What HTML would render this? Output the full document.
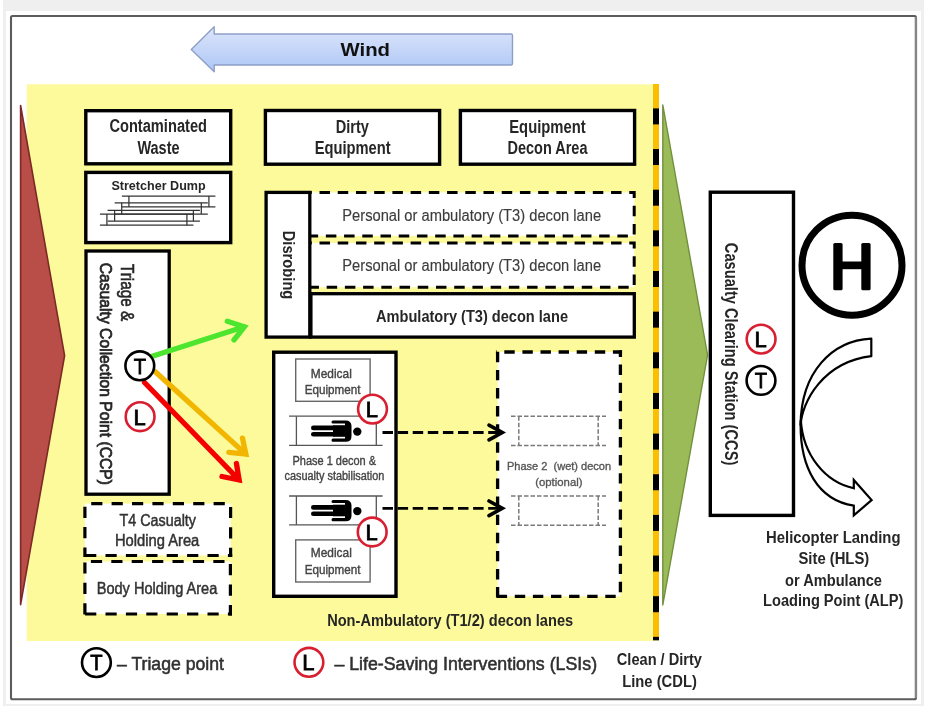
<!DOCTYPE html><html><head><meta charset="utf-8"><title>Decon layout</title><style>html,body{margin:0;padding:0;background:#fff;width:930px;height:718px;overflow:hidden;}svg text{font-family:"Liberation Sans",sans-serif;}</style></head><body><svg width="930" height="718" viewBox="0 0 930 718" style="display:block;filter:blur(0.45px)" font-family='"Liberation Sans", sans-serif'><rect x="0" y="0" width="930" height="718" fill="#fff"/>
<rect x="3" y="0" width="921" height="706" fill="#efefef"/>
<rect x="6" y="11" width="915" height="693" fill="#fff"/>
<rect x="11" y="16" width="905" height="683.2" fill="none" stroke="#5c5c5c" stroke-width="2.1" rx="1.5"/>
<line x1="915.9" y1="17" x2="915.9" y2="698" stroke="#858585" stroke-width="2.3"/>
<defs><linearGradient id="wg" x1="0" y1="0" x2="0" y2="1"><stop offset="0" stop-color="#dde6fb"/><stop offset="1" stop-color="#adc6f6"/></linearGradient></defs>
<path d="M191.3,49.6 L214.2,26.7 V34 H511 Q512.5,34 512.5,35.5 V63.5 Q512.5,65 511,65 H214.2 V71.7 Z" fill="url(#wg)" stroke="#8d9fc6" stroke-width="1.4" stroke-linejoin="round"/>
<text x="340.5" y="56.2" font-size="18.8" font-weight="bold" fill="#111" textLength="49.51" lengthAdjust="spacingAndGlyphs">Wind</text>
<rect x="26.7" y="84.3" width="626.6" height="556.7" fill="#fcfa9a"/>
<path d="M20.6,105.5 L64.6,355.7 L20.6,604.6 Z" fill="#b94d48" stroke="#7d2a26" stroke-width="1.6" stroke-linejoin="round"/>
<rect x="653" y="84" width="6" height="556.3" fill="#fcbf00"/>
<g fill="#000"><rect x="653" y="108.4" width="6" height="16"/><rect x="653" y="149.05" width="6" height="16"/><rect x="653" y="189.7" width="6" height="16"/><rect x="653" y="230.35" width="6" height="16"/><rect x="653" y="271" width="6" height="16"/><rect x="653" y="311.65" width="6" height="16"/><rect x="653" y="352.3" width="6" height="16"/><rect x="653" y="392.95" width="6" height="16"/><rect x="653" y="433.6" width="6" height="16"/><rect x="653" y="474.25" width="6" height="16"/><rect x="653" y="514.9" width="6" height="16"/><rect x="653" y="555.55" width="6" height="16"/><rect x="653" y="596.2" width="6" height="16"/><rect x="653" y="636.85" width="6" height="3.45"/></g>
<path d="M662.8,105 L707.6,355 L662.8,605 Z" fill="#9bbb59" stroke="#72903c" stroke-width="1.4" stroke-linejoin="round"/>
<rect x="85.8" y="110.7" width="144.9" height="53.1" fill="#fff" stroke="#000" stroke-width="3.4"/>
<text x="109.41" y="132.2" font-size="17.5" font-weight="bold" fill="#262626" textLength="97.57" lengthAdjust="spacingAndGlyphs">Contaminated</text>
<text x="137.4" y="154.2" font-size="17.5" font-weight="bold" fill="#262626" textLength="42.15" lengthAdjust="spacingAndGlyphs">Waste</text>
<rect x="85.8" y="172.4" width="144.9" height="70.2" fill="#fff" stroke="#000" stroke-width="3.4"/>
<text x="111.42" y="189.8" font-size="13.5" font-weight="bold" fill="#262626" textLength="94.3" lengthAdjust="spacingAndGlyphs">Stretcher Dump</text>
<g stroke="#333" stroke-width="1.25" fill="none"><line x1="121.9" y1="196" x2="215.4" y2="196"/><line x1="121.9" y1="206.9" x2="215.4" y2="206.9"/><line x1="128.9" y1="196" x2="128.9" y2="206.9"/><line x1="208.9" y1="196" x2="208.9" y2="206.9"/></g>
<g stroke="#333" stroke-width="1.25" fill="none"><line x1="114.7" y1="202.8" x2="207.8" y2="202.8"/><line x1="114.7" y1="214" x2="207.8" y2="214"/><line x1="121.7" y1="202.8" x2="121.7" y2="214"/><line x1="201.3" y1="202.8" x2="201.3" y2="214"/></g>
<g stroke="#333" stroke-width="1.25" fill="none"><line x1="107.6" y1="210.3" x2="199.9" y2="210.3"/><line x1="107.6" y1="221.1" x2="199.9" y2="221.1"/><line x1="114.6" y1="210.3" x2="114.6" y2="221.1"/><line x1="193.4" y1="210.3" x2="193.4" y2="221.1"/></g>
<g stroke="#333" stroke-width="1.25" fill="none"><line x1="99.9" y1="214" x2="193.4" y2="214"/><line x1="99.9" y1="225.2" x2="193.4" y2="225.2"/><line x1="106.9" y1="214" x2="106.9" y2="225.2"/><line x1="186.9" y1="214" x2="186.9" y2="225.2"/></g>
<rect x="265.4" y="110.5" width="174.2" height="53.7" fill="#fff" stroke="#000" stroke-width="3.4"/>
<text x="335.75" y="132.8" font-size="17.5" font-weight="bold" fill="#262626" textLength="33.17" lengthAdjust="spacingAndGlyphs">Dirty</text>
<text x="314.64" y="154.1" font-size="17.5" font-weight="bold" fill="#262626" textLength="76.03" lengthAdjust="spacingAndGlyphs">Equipment</text>
<rect x="460.4" y="110.5" width="174.2" height="53.7" fill="#fff" stroke="#000" stroke-width="3.4"/>
<text x="509.24" y="132.8" font-size="17.5" font-weight="bold" fill="#262626" textLength="76.43" lengthAdjust="spacingAndGlyphs">Equipment</text>
<text x="507.56" y="154.1" font-size="17.5" font-weight="bold" fill="#262626" textLength="79.91" lengthAdjust="spacingAndGlyphs">Decon Area</text>
<rect x="300" y="192.5" width="334.2" height="43.4" fill="#fff" stroke="#000" stroke-width="3" stroke-dasharray="10.5 7.72" stroke-dashoffset="16.92"/>
<rect x="300" y="243" width="334.2" height="44.2" fill="#fff" stroke="#000" stroke-width="3" stroke-dasharray="10.5 7.72" stroke-dashoffset="16.92"/>
<rect x="310.9" y="293.7" width="323.4" height="43.4" fill="#fff" stroke="#000" stroke-width="3.3"/>
<rect x="266.1" y="192.4" width="43.7" height="144.7" fill="#fff" stroke="#000" stroke-width="3.3"/>
<text x="342.33" y="221" font-size="16" font-weight="normal" fill="#3c3c3c" textLength="258.75" lengthAdjust="spacingAndGlyphs" stroke="#3c3c3c" stroke-width="0.15">Personal or ambulatory (T3) decon lane</text>
<text x="342.33" y="270.9" font-size="16" font-weight="normal" fill="#3c3c3c" textLength="258.75" lengthAdjust="spacingAndGlyphs" stroke="#3c3c3c" stroke-width="0.15">Personal or ambulatory (T3) decon lane</text>
<text x="376.04" y="322.3" font-size="17" font-weight="bold" fill="#262626" textLength="191.96" lengthAdjust="spacingAndGlyphs">Ambulatory (T3) decon lane</text>
<text transform="translate(282.8,0) rotate(90)" x="230.74" y="0" font-size="17" font-weight="bold" fill="#262626" textLength="68.63" lengthAdjust="spacingAndGlyphs">Disrobing</text>
<rect x="86" y="251" width="83.2" height="243.2" fill="#fff" stroke="#000" stroke-width="3.3"/>
<text transform="translate(121.1,0) rotate(90)" x="263.89" y="0" font-size="18.8" font-weight="normal" fill="#262626" textLength="57.37" lengthAdjust="spacingAndGlyphs" stroke="#262626" stroke-width="0.6">Triage &amp;</text>
<text transform="translate(100,0) rotate(90)" x="262.72" y="0" font-size="17" font-weight="normal" fill="#262626" textLength="222.26" lengthAdjust="spacingAndGlyphs" stroke="#262626" stroke-width="0.75">Casualty Collection Point (CCP)</text>
<rect x="84.9" y="503.6" width="145.7" height="51.9" fill="#fff"/>
<line x1="83.3" y1="503.6" x2="232.2" y2="503.6" stroke="#000" stroke-width="3.2" stroke-dasharray="11.2 9.2" stroke-dashoffset="12.5"/>
<line x1="230.6" y1="502" x2="230.6" y2="557.1" stroke="#000" stroke-width="3.2" stroke-dasharray="11.2 9.2" stroke-dashoffset="15.5"/>
<line x1="83.3" y1="555.5" x2="232.2" y2="555.5" stroke="#000" stroke-width="3.2" stroke-dasharray="11.2 9.2" stroke-dashoffset="18.6"/>
<line x1="84.9" y1="502" x2="84.9" y2="557.1" stroke="#000" stroke-width="3.2" stroke-dasharray="11.2 9.2" stroke-dashoffset="15.7"/>
<rect x="84.9" y="561.5" width="145.5" height="52.5" fill="#fff"/>
<line x1="83.3" y1="561.5" x2="232" y2="561.5" stroke="#000" stroke-width="3.2" stroke-dasharray="11.2 9.2" stroke-dashoffset="12.8"/>
<line x1="230.4" y1="559.9" x2="230.4" y2="615.6" stroke="#000" stroke-width="3.2" stroke-dasharray="11.2 9.2" stroke-dashoffset="16.2"/>
<line x1="83.3" y1="614" x2="232" y2="614" stroke="#000" stroke-width="3.2" stroke-dasharray="11.2 9.2" stroke-dashoffset="18.6"/>
<line x1="84.9" y1="559.9" x2="84.9" y2="615.6" stroke="#000" stroke-width="3.2" stroke-dasharray="11.2 9.2" stroke-dashoffset="17.9"/>
<text x="119.51" y="526.1" font-size="15.6" font-weight="normal" fill="#333" textLength="76.49" lengthAdjust="spacingAndGlyphs" stroke="#333" stroke-width="0.47">T4 Casualty</text>
<text x="114.92" y="546.2" font-size="15.6" font-weight="normal" fill="#333" textLength="84.4" lengthAdjust="spacingAndGlyphs" stroke="#333" stroke-width="0.47">Holding Area</text>
<text x="96.74" y="593.7" font-size="16" font-weight="normal" fill="#333" textLength="120.52" lengthAdjust="spacingAndGlyphs" stroke="#333" stroke-width="0.48">Body Holding Area</text>
<rect x="273.7" y="352.2" width="122.3" height="244.1" fill="#fff" stroke="#000" stroke-width="3.4"/>
<rect x="295.7" y="359" width="74.4" height="42.3" fill="#fff" stroke="#666" stroke-width="1.4"/>
<text x="310.75" y="377.5" font-size="13.5" font-weight="normal" fill="#444" textLength="41.04" lengthAdjust="spacingAndGlyphs" stroke="#444" stroke-width="0.4">Medical</text>
<text x="304.77" y="393.5" font-size="13.5" font-weight="normal" fill="#444" textLength="55.8" lengthAdjust="spacingAndGlyphs" stroke="#444" stroke-width="0.4">Equipment</text>
<rect x="295.7" y="539.9" width="74.4" height="42.1" fill="#fff" stroke="#666" stroke-width="1.4"/>
<text x="310.75" y="556.9" font-size="13.5" font-weight="normal" fill="#444" textLength="41.04" lengthAdjust="spacingAndGlyphs" stroke="#444" stroke-width="0.4">Medical</text>
<text x="304.77" y="574.3" font-size="13.5" font-weight="normal" fill="#444" textLength="55.8" lengthAdjust="spacingAndGlyphs" stroke="#444" stroke-width="0.4">Equipment</text>
<g stroke="#555" stroke-width="1.3" fill="none"><line x1="289.1" y1="416.2" x2="382.6" y2="416.2"/><line x1="289.1" y1="445.4" x2="382.6" y2="445.4"/><line x1="296.4" y1="416.2" x2="296.4" y2="445.4"/><line x1="376.3" y1="416.2" x2="376.3" y2="445.4"/></g>
<g stroke="#555" stroke-width="1.3" fill="none"><line x1="289.1" y1="496" x2="382.6" y2="496"/><line x1="289.1" y1="524.9" x2="382.6" y2="524.9"/><line x1="296.4" y1="496" x2="296.4" y2="524.9"/><line x1="376.3" y1="496" x2="376.3" y2="524.9"/></g>
<g fill="#000"><circle cx="357.3" cy="431.6" r="4.2"/><path d="M333,420.4 H345.5 Q351.5,420.4 351.5,426 V436.2 Q351.5,441.8 345.5,441.8 H333 Q331.5,441.8 331.5,440.3 Q331.5,438.6 333,438.6 H345 V423.6 H333 Q331.5,423.6 331.5,422 Q331.5,420.4 333,420.4 Z"/><rect x="333" y="425.2" width="13" height="11.6"/><rect x="311" y="425.6" width="24" height="4.6" rx="2.3"/><rect x="311" y="432" width="24" height="4.6" rx="2.3"/></g>
<g fill="#000"><circle cx="357.3" cy="511.1" r="4.2"/><path d="M333,499.9 H345.5 Q351.5,499.9 351.5,505.5 V515.7 Q351.5,521.3 345.5,521.3 H333 Q331.5,521.3 331.5,519.8 Q331.5,518.1 333,518.1 H345 V503.1 H333 Q331.5,503.1 331.5,501.5 Q331.5,499.9 333,499.9 Z"/><rect x="333" y="504.7" width="13" height="11.6"/><rect x="311" y="505.1" width="24" height="4.6" rx="2.3"/><rect x="311" y="511.5" width="24" height="4.6" rx="2.3"/></g>
<text x="292.52" y="464.9" font-size="12.5" font-weight="normal" fill="#444" textLength="83.56" lengthAdjust="spacingAndGlyphs" stroke="#444" stroke-width="0.38">Phase 1 decon &amp;</text>
<text x="284.56" y="480.2" font-size="12.5" font-weight="normal" fill="#444" textLength="99.86" lengthAdjust="spacingAndGlyphs" stroke="#444" stroke-width="0.38">casualty stabilisation</text>
<rect x="497.6" y="352" width="122.8" height="244.4" fill="#fff"/>
<line x1="495.95" y1="352" x2="622.05" y2="352" stroke="#000" stroke-width="3.3" stroke-dasharray="10.4 7.7" stroke-dashoffset="9.75"/>
<line x1="620.4" y1="350.35" x2="620.4" y2="598.05" stroke="#000" stroke-width="3.3" stroke-dasharray="10.4 7.7" stroke-dashoffset="3.85"/>
<line x1="495.95" y1="596.4" x2="622.05" y2="596.4" stroke="#000" stroke-width="3.3" stroke-dasharray="10.4 7.7" stroke-dashoffset="17.35"/>
<line x1="497.6" y1="350.35" x2="497.6" y2="598.05" stroke="#000" stroke-width="3.3" stroke-dasharray="10.4 7.7" stroke-dashoffset="16.65"/>
<g stroke="#7a7a7a" stroke-width="1.5" fill="none" stroke-dasharray="4.5 2"><line x1="511" y1="416.2" x2="606" y2="416.2"/><line x1="511" y1="445.4" x2="606" y2="445.4"/><line x1="518.8" y1="416.2" x2="518.8" y2="445.4"/><line x1="598.2" y1="416.2" x2="598.2" y2="445.4"/></g>
<g stroke="#7a7a7a" stroke-width="1.5" fill="none" stroke-dasharray="4.5 2"><line x1="511" y1="496.1" x2="606" y2="496.1"/><line x1="511" y1="525.2" x2="606" y2="525.2"/><line x1="518.8" y1="496.1" x2="518.8" y2="525.2"/><line x1="598.2" y1="496.1" x2="598.2" y2="525.2"/></g>
<text x="506.92" y="470" font-size="11.5" font-weight="normal" fill="#555" textLength="104.2" lengthAdjust="spacingAndGlyphs" stroke="#555" stroke-width="0.34">Phase 2  (wet) decon</text>
<text x="535.22" y="485.6" font-size="11.5" font-weight="normal" fill="#555" textLength="47.31" lengthAdjust="spacingAndGlyphs" stroke="#555" stroke-width="0.34">(optional)</text>
<line x1="382.5" y1="432.5" x2="500" y2="432.5" stroke="#000" stroke-width="2.8" stroke-dasharray="10.5 4.6"/>
<path d="M489,425.2 L502.3,432.5 L489,439.8" fill="none" stroke="#000" stroke-width="3.6" stroke-linecap="round" stroke-linejoin="miter"/>
<line x1="382.5" y1="508.3" x2="500" y2="508.3" stroke="#000" stroke-width="2.8" stroke-dasharray="10.5 4.6"/>
<path d="M489,501 L502.3,508.3 L489,515.6" fill="none" stroke="#000" stroke-width="3.6" stroke-linecap="round" stroke-linejoin="miter"/>
<circle cx="372.5" cy="409.1" r="14.4" fill="#fff" stroke="#d81e30" stroke-width="2.6"/>
<text x="365.84" y="416.9" font-size="22.9" font-weight="normal" fill="#000" stroke="#000" stroke-width="0.8" textLength="12.25" lengthAdjust="spacingAndGlyphs">L</text>
<circle cx="372.2" cy="532" r="14.4" fill="#fff" stroke="#d81e30" stroke-width="2.6"/>
<text x="365.54" y="539.8" font-size="22.9" font-weight="normal" fill="#000" stroke="#000" stroke-width="0.8" textLength="12.25" lengthAdjust="spacingAndGlyphs">L</text>
<text x="327.15" y="625.5" font-size="16" font-weight="bold" fill="#262626" textLength="246.05" lengthAdjust="spacingAndGlyphs">Non-Ambulatory (T1/2) decon lanes</text>
<path d="M151.5,356.5 L244.34,326.81 M227.31,321.24 L244.34,326.81 L233.95,340" fill="none" stroke="#4ee52f" stroke-width="5.3" stroke-linecap="round" stroke-linejoin="miter" stroke-miterlimit="10"/>
<path d="M155,371.5 L245.85,454.11 M242.46,438.07 L245.85,454.11 L228.86,452.38" fill="none" stroke="#f2b600" stroke-width="5.3" stroke-linecap="round" stroke-linejoin="miter" stroke-miterlimit="10"/>
<path d="M144.5,382.5 L239.14,480.01 M236.44,463.51 L239.14,480.01 L221.99,476.52" fill="none" stroke="#f50000" stroke-width="5.3" stroke-linecap="round" stroke-linejoin="miter" stroke-miterlimit="10"/>
<circle cx="139.8" cy="365.8" r="14.4" fill="#fff" stroke="#000" stroke-width="2.6"/>
<text x="133.65" y="373.6" font-size="22.9" font-weight="normal" fill="#000" stroke="#000" stroke-width="0.8" textLength="12.32" lengthAdjust="spacingAndGlyphs">T</text>
<circle cx="140.1" cy="416.7" r="14.4" fill="#fff" stroke="#d81e30" stroke-width="2.6"/>
<text x="133.44" y="424.5" font-size="22.9" font-weight="normal" fill="#000" stroke="#000" stroke-width="0.8" textLength="12.25" lengthAdjust="spacingAndGlyphs">L</text>
<rect x="710.3" y="192.2" width="83.2" height="323.2" fill="#fff" stroke="#000" stroke-width="3.4"/>
<text transform="translate(724.6,0) rotate(90)" x="242.81" y="0" font-size="17.5" font-weight="bold" fill="#262626" textLength="222.51" lengthAdjust="spacingAndGlyphs">Casualty Clearing Station (CCS)</text>
<circle cx="761.1" cy="339.1" r="14.4" fill="#fff" stroke="#d81e30" stroke-width="2.6"/>
<text x="754.44" y="346.9" font-size="22.9" font-weight="normal" fill="#000" stroke="#000" stroke-width="0.8" textLength="12.25" lengthAdjust="spacingAndGlyphs">L</text>
<circle cx="761" cy="380.4" r="14.4" fill="#fff" stroke="#000" stroke-width="2.6"/>
<text x="754.85" y="388.2" font-size="22.9" font-weight="normal" fill="#000" stroke="#000" stroke-width="0.8" textLength="12.32" lengthAdjust="spacingAndGlyphs">T</text>
<circle cx="852" cy="265.2" r="50" fill="#fff" stroke="#000" stroke-width="7"/>
<g fill="#000"><rect x="833.3" y="242.9" width="9.3" height="47.4" rx="1.6"/><rect x="861.3" y="242.9" width="9.3" height="47.4" rx="1.6"/><rect x="840" y="261.5" width="24" height="7.7"/></g>
<path d="M871.3,338.6 C832,340.5 801,372 800.6,425 C802,402 823,362 871.3,356.2 Z" fill="#fff" stroke="#000" stroke-width="2.2" stroke-linejoin="round"/>
<path d="M800.6,423 C800,468 818,500 853.8,505.7 L853.8,515.4 L871.6,500.1 L853.8,479.9 L853.8,488.3 C825,482 803,455 800.8,420 Z" fill="#fff" stroke="#000" stroke-width="2.2" stroke-linejoin="miter"/>
<text x="766.04" y="543.3" font-size="16.8" font-weight="bold" fill="#262626" textLength="134.45" lengthAdjust="spacingAndGlyphs">Helicopter Landing</text>
<text x="798.46" y="564.1" font-size="16.8" font-weight="bold" fill="#262626" textLength="70.76" lengthAdjust="spacingAndGlyphs">Site (HLS)</text>
<text x="785.01" y="586.4" font-size="16.8" font-weight="bold" fill="#262626" textLength="97.01" lengthAdjust="spacingAndGlyphs">or Ambulance</text>
<text x="763.05" y="605.5" font-size="16.8" font-weight="bold" fill="#262626" textLength="140.27" lengthAdjust="spacingAndGlyphs">Loading Point (ALP)</text>
<circle cx="96.4" cy="662.6" r="14.4" fill="#fff" stroke="#000" stroke-width="2.6"/>
<text x="90.25" y="670.4" font-size="22.9" font-weight="normal" fill="#000" stroke="#000" stroke-width="0.8" textLength="12.32" lengthAdjust="spacingAndGlyphs">T</text>
<text x="117" y="670.2" font-size="18" font-weight="normal" fill="#303030" textLength="106.97" lengthAdjust="spacingAndGlyphs" stroke="#303030" stroke-width="0.54">– Triage point</text>
<circle cx="308.9" cy="662.3" r="14.4" fill="#fff" stroke="#d81e30" stroke-width="2.6"/>
<text x="302.24" y="670.1" font-size="22.9" font-weight="normal" fill="#000" stroke="#000" stroke-width="0.8" textLength="12.25" lengthAdjust="spacingAndGlyphs">L</text>
<text x="334.4" y="670.2" font-size="18" font-weight="normal" fill="#303030" textLength="262.68" lengthAdjust="spacingAndGlyphs" stroke="#303030" stroke-width="0.54">– Life-Saving Interventions (LSIs)</text>
<text x="616.82" y="664.9" font-size="17" font-weight="bold" fill="#262626" textLength="85.16" lengthAdjust="spacingAndGlyphs">Clean / Dirty</text>
<text x="622.24" y="686.8" font-size="17" font-weight="bold" fill="#262626" textLength="74.59" lengthAdjust="spacingAndGlyphs">Line (CDL)</text></svg></body></html>
